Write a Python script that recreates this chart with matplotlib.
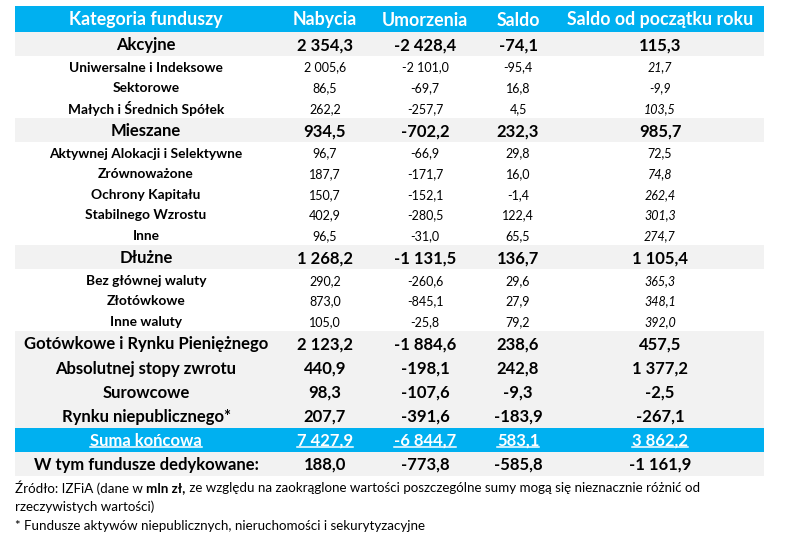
import matplotlib
matplotlib.use("Agg")
import matplotlib.pyplot as plt

plt.rcParams['font.family'] = ['Lato', 'DejaVu Sans']

# dane (mln zl)
headers = ["Kategoria funduszy", "Nabycia", "Umorzenia", "Saldo", "Saldo od początku roku"]
categories = ["Akcyjne", "Uniwersalne i Indeksowe", "Sektorowe", "Małych i Średnich Spółek",
              "Mieszane", "Aktywnej Alokacji i Selektywne", "Zrównoważone", "Ochrony Kapitału",
              "Stabilnego Wzrostu", "Inne",
              "Dłużne", "Bez głównej waluty", "Złotówkowe", "Inne waluty",
              "Gotówkowe i Rynku Pieniężnego", "Absolutnej stopy zwrotu", "Surowcowe",
              "Rynku niepublicznego*", "Suma końcowa", "W tym fundusze dedykowane:"]
nabycia = [2354.3, 2005.6, 86.5, 262.2, 934.5, 96.7, 187.7, 150.7, 402.9, 96.5,
           1268.2, 290.2, 873.0, 105.0, 2123.2, 440.9, 98.3, 207.7, 7427.9, 188.0]
umorzenia = [-2428.4, -2101.0, -69.7, -257.7, -702.2, -66.9, -171.7, -152.1, -280.5, -31.0,
             -1131.5, -260.6, -845.1, -25.8, -1884.6, -198.1, -107.6, -391.6, -6844.7, -773.8]
saldo = [-74.1, -95.4, 16.8, 4.5, 232.3, 29.8, 16.0, -1.4, 122.4, 65.5,
         136.7, 29.6, 27.9, 79.2, 238.6, 242.8, -9.3, -183.9, 583.1, -585.8]
saldo_ytd = [115.3, 21.7, -9.9, 103.5, 985.7, 72.5, 74.8, 262.4, 301.3, 274.7,
             1105.4, 365.3, 348.1, 392.0, 457.5, 1377.2, -2.5, -267.1, 3862.2, -1161.9]
# typ wiersza: b = glowna kategoria, s = podkategoria, t = suma
row_kind = ["b", "s", "s", "s", "b", "s", "s", "s", "s", "s",
            "b", "s", "s", "s", "b", "b", "b", "b", "t", "b"]
ytd_italic = [False, True, True, True, False, False, True, True, True, True,
              False, True, True, True, False, False, False, False, False, False]
grey_rows = [0, 4, 10, 14, 15, 16, 17, 19]

source_line1 = ["Źródło: IZFiA (dane w ", "mln zł,",
                " ze względu na zaokrąglone wartości poszczególne sumy mogą się nieznacznie różnić od"]
source_line2 = "rzeczywistych wartości)"
footnote = "* Fundusze aktywów niepublicznych, nieruchomości i sekurytyzacyjne"

BLUE = "#00B0F0"
GREY = "#F2F2F2"


def fmt(v):
    s = f"{abs(v):,.1f}".replace(",", " ").replace(".", ",")
    return ("-" if v < 0 else "") + s


W, H = 786, 545
fig = plt.figure(figsize=(W / 100, H / 100), dpi=100)
ax = fig.add_axes([0, 0, 1, 1])
ax.set_xlim(0, W)
ax.set_ylim(H, 0)
ax.axis("off")

x0, x1 = 15, 764
col_x = [146, 325, 425, 518, 660]
top, head_h = 6, 26
h_big, h_small = 24.2, 20.6

# naglowek
ax.add_patch(plt.Rectangle((x0, top), x1 - x0, head_h, color=BLUE, lw=0))
for cx, t in zip(col_x, headers):
    ax.text(cx, top + head_h / 2 + 1, t, ha="center", va="center", color="white",
            fontsize=12.8, fontweight="bold")

underlined = []
y = top + head_h
for i, cat in enumerate(categories):
    kind = row_kind[i]
    h = h_small if kind == "s" else h_big
    if kind == "t":
        h = 23.5
    if i in grey_rows:
        ax.add_patch(plt.Rectangle((x0, y), x1 - x0, h, color=GREY, lw=0))
    if kind == "t":
        ax.add_patch(plt.Rectangle((x0, y), x1 - x0, h, color=BLUE, lw=0))
    cy = y + h / 2 + 1
    vals = [fmt(nabycia[i]), fmt(umorzenia[i]), fmt(saldo[i]), fmt(saldo_ytd[i])]
    if kind == "s":
        ax.text(col_x[0], cy, cat, ha="center", va="center", fontsize=9.9, fontweight="bold")
        for j, v in enumerate(vals):
            st = "italic" if (j == 3 and ytd_italic[i]) else "normal"
            ax.text(col_x[j + 1], cy, v, ha="center", va="center", fontsize=9, style=st)
    else:
        color = "white" if kind == "t" else "black"
        for j, t in enumerate([cat] + vals):
            txt = ax.text(col_x[j], cy, t, ha="center", va="center", fontsize=12,
                          fontweight="bold", color=color)
            if kind == "t":
                underlined.append((txt, y + h - 4.5))
    y += h

# podkreslenia w wierszu sumy
fig.canvas.draw()
r = fig.canvas.get_renderer()
inv = ax.transData.inverted()
for txt, uy in underlined:
    bb = txt.get_window_extent(r)
    xa, _ = inv.transform((bb.x0, 0))
    xb, _ = inv.transform((bb.x1, 0))
    ax.plot([xa, xb], [uy, uy], color="white", lw=1.1)

# zrodlo i przypis
sy = 488
xx = x0
for k, part in enumerate(source_line1):
    t = ax.text(xx, sy, part, ha="left", va="center", fontsize=9.6,
                fontweight="bold" if k == 1 else "normal")
    fig.canvas.draw()
    bb = t.get_window_extent(fig.canvas.get_renderer())
    xx = inv.transform((bb.x1, 0))[0]
ax.text(x0, 507, source_line2, ha="left", va="center", fontsize=9.6)
ax.text(x0, 526, footnote, ha="left", va="center", fontsize=9.6)

fig.savefig("out.png", dpi=100)
